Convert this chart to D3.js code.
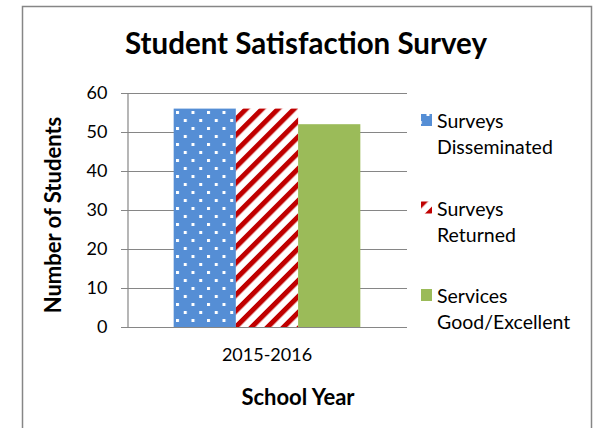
<!DOCTYPE html>
<html>
<head>
<meta charset="utf-8">
<script src="https://cdn.jsdelivr.net/npm/d3@7"></script>
<style>
  body { margin: 0; background: #fff; }
  text { font-family: Lato, "Open Sans", sans-serif; fill: #000; }
</style>
</head>
<body>
<script>
// values
const categories = ["2015-2016"];
const seriesNames = ["Surveys Disseminated", "Surveys Returned", "Services Good/Excellent"];
const legendLines = [["Surveys", "Disseminated"], ["Surveys", "Returned"], ["Services", "Good/Excellent"]];
const seriesValues = [56, 56, 52];
const yTicks = [0, 10, 20, 30, 40, 50, 60];

const width = 597, height = 428;
const plot = {left: 127, right: 407, top: 93, bottom: 327};

const svg = d3.select("body").append("svg")
  .attr("width", width)
  .attr("height", height);

// patterns for the first two series
const defs = svg.append("defs");
const dots = defs.append("pattern")
  .attr("id", "dots")
  .attr("patternUnits", "userSpaceOnUse")
  .attr("width", 15.5).attr("height", 16)
  .attr("x", 176).attr("y", 111);
dots.append("rect").attr("width", 15.5).attr("height", 16).attr("fill", "#558ed5");
dots.append("rect").attr("x", 0).attr("y", 0).attr("width", 3).attr("height", 3).attr("fill", "#fff");
dots.append("rect").attr("x", 7.75).attr("y", 8).attr("width", 3).attr("height", 3).attr("fill", "#fff");

const stripes = defs.append("pattern")
  .attr("id", "stripes")
  .attr("patternUnits", "userSpaceOnUse")
  .attr("width", 11.3).attr("height", 11.3)
  .attr("patternTransform", "rotate(45)");
stripes.append("rect").attr("width", 11.3).attr("height", 11.3).attr("fill", "#fff");
stripes.append("rect").attr("width", 5).attr("height", 11.3).attr("fill", "#c00000");

const fills = ["url(#dots)", "url(#stripes)", "#9bbb59"];

// chart border
svg.append("rect")
  .attr("x", 22.5).attr("y", 6.5)
  .attr("width", 569).attr("height", 440)
  .attr("fill", "none")
  .attr("stroke", "#868686")
  .attr("stroke-width", 1.5);

// scales
const yScale = d3.scaleLinear().domain([0, 60]).range([plot.bottom, plot.top]);
const xScale = d3.scaleBand().domain(categories).range([plot.left, plot.right]).padding(0.2);
const xInner = d3.scaleBand().domain(seriesNames).range([0, xScale.bandwidth()]);

// gridlines
svg.append("g")
  .selectAll("line")
  .data(yTicks)
  .enter()
  .append("line")
  .attr("x1", plot.left - 6)
  .attr("x2", plot.right)
  .attr("y1", d => Math.round(yScale(d)) + 0.5)
  .attr("y2", d => Math.round(yScale(d)) + 0.5)
  .attr("stroke", "#868686")
  .attr("stroke-width", 1.2);

// bars
svg.append("g")
  .selectAll("rect")
  .data(seriesNames)
  .enter()
  .append("rect")
  .attr("x", d => xScale(categories[0]) + xInner(d))
  .attr("y", (d, i) => yScale(seriesValues[i]))
  .attr("width", xInner.bandwidth())
  .attr("height", (d, i) => yScale(0) - yScale(seriesValues[i]))
  .attr("fill", (d, i) => fills[i]);

// y axis
const yAxis = svg.append("g")
  .attr("transform", "translate(" + (plot.left + 0.5) + ",0)")
  .call(d3.axisLeft(yScale).tickValues(yTicks).tickSize(0).tickPadding(20));
yAxis.select(".domain").attr("stroke", "#868686").attr("stroke-width", 1.2);
yAxis.selectAll("text").style("font-size", "18px").attr("fill", "#000");

// x axis
const xAxis = svg.append("g")
  .attr("transform", "translate(0," + (Math.round(yScale(0)) + 0.5) + ")")
  .call(d3.axisBottom(xScale).tickSize(0).tickPadding(21));
xAxis.select(".domain").remove();
xAxis.selectAll("text").style("font-size", "18px").attr("fill", "#000");

// title and axis labels
svg.append("text")
  .attr("x", 306)
  .attr("y", 54)
  .attr("text-anchor", "middle")
  .style("font-size", "29.5px")
  .style("font-weight", "bold")
  .text("Student Satisfaction Survey");

svg.append("text")
  .attr("transform", "rotate(-90)")
  .attr("x", -215)
  .attr("y", 61)
  .attr("text-anchor", "middle")
  .style("font-size", "22px")
  .style("font-weight", "bold")
  .text("Number of Students");

svg.append("text")
  .attr("x", 298)
  .attr("y", 405)
  .attr("text-anchor", "middle")
  .style("font-size", "22px")
  .style("font-weight", "bold")
  .text("School Year");

// legend
const legend = svg.append("g")
  .selectAll("g")
  .data(legendLines)
  .enter()
  .append("g")
  .attr("transform", (d, i) => "translate(421," + (114 + i * 87.5) + ")");

legend.append("rect")
  .attr("width", 11).attr("height", 12)
  .attr("fill", (d, i) => fills[i]);

legend.append("text")
  .attr("x", 16)
  .attr("y", 14)
  .style("font-size", "19.5px")
  .selectAll("tspan")
  .data(d => d)
  .enter()
  .append("tspan")
  .attr("x", 16)
  .attr("dy", (d, i) => i === 0 ? 0 : 26)
  .text(d => d);
</script>
</body>
</html>
